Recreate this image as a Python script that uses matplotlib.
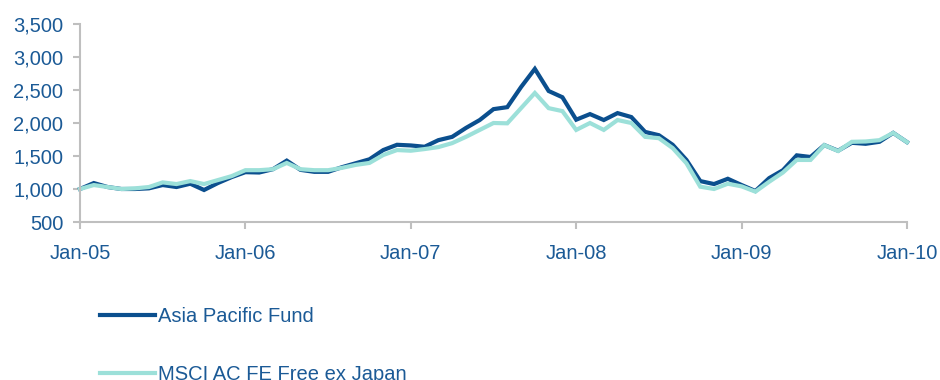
import matplotlib.pyplot as plt

plt.rcParams['font.family'] = ['Liberation Sans', 'DejaVu Sans']

# monthly values, Jan-05 .. Jan-10
fund = [1000, 1090, 1030, 1000, 1000, 1010, 1060, 1030, 1080, 985,
        1090, 1180, 1255, 1250, 1300, 1430, 1290, 1260, 1260, 1330,
        1390, 1450, 1590, 1670, 1660, 1640, 1740, 1790, 1925, 2045,
        2210, 2240, 2545, 2820, 2485, 2390, 2050, 2135, 2045, 2150,
        2090, 1865, 1815, 1670, 1440, 1120, 1075, 1155, 1060, 970,
        1165, 1285, 1510, 1485, 1665, 1580, 1700, 1685, 1715, 1850, 1710]
msci = [1000, 1060, 1030, 1000, 1010, 1030, 1100, 1075, 1120, 1075,
        1135, 1195, 1285, 1285, 1300, 1395, 1300, 1285, 1285, 1320,
        1365, 1395, 1515, 1590, 1580, 1605, 1635, 1695, 1790, 1895,
        2000, 1995, 2225, 2455, 2225, 2180, 1895, 2000, 1895, 2045,
        2000, 1790, 1770, 1620, 1390, 1035, 1000, 1080, 1040, 960,
        1110, 1250, 1440, 1440, 1665, 1575, 1715, 1720, 1740, 1850, 1710]
months = list(range(len(fund)))
year_ticks = [0, 12, 24, 36, 48, 60]
year_labels = ['Jan-05', 'Jan-06', 'Jan-07', 'Jan-08', 'Jan-09', 'Jan-10']

text_col = '#1B5A96'
grey = '#BFBFBF'

fig = plt.figure(figsize=(9.4, 3.8), dpi=100)
ax = fig.add_axes([80 / 940, 1 - 222 / 380, 827 / 940, 198 / 380])

ax.plot(months, fund, color='#0B4F8E', linewidth=3.0, label='Asia Pacific Fund',
        solid_joinstyle='miter', clip_on=False)
ax.plot(months, msci, color='#9CE0D9', linewidth=3.0, label='MSCI AC FE Free ex Japan',
        solid_joinstyle='miter', clip_on=False)

ax.set_xlim(0, 60)
ax.set_ylim(500, 3500)
ax.set_xticks(year_ticks)
ax.set_xticklabels(year_labels)
ax.set_yticks(range(500, 3501, 500))
ax.set_yticklabels(['{:,}'.format(v) for v in range(500, 3501, 500)])

for s in ['top', 'right']:
    ax.spines[s].set_visible(False)
for s in ['left', 'bottom']:
    ax.spines[s].set_color(grey)
    ax.spines[s].set_linewidth(1.5)
ax.tick_params(axis='both', colors=grey, labelcolor=text_col, labelsize=14.5,
               length=5, width=1.5, direction='out')
ax.tick_params(axis='x', pad=10.5)
ax.tick_params(axis='y', pad=7)

leg = ax.legend(loc='upper left', bbox_to_anchor=(100 / 940, 1 - 307 / 380),
                bbox_transform=fig.transFigure, frameon=False, fontsize=14.5,
                handlelength=2.75, handletextpad=0.15, labelspacing=1.92,
                borderaxespad=0, borderpad=0)
for t in leg.get_texts():
    t.set_color(text_col)

fig.savefig('out.png', dpi=100)
